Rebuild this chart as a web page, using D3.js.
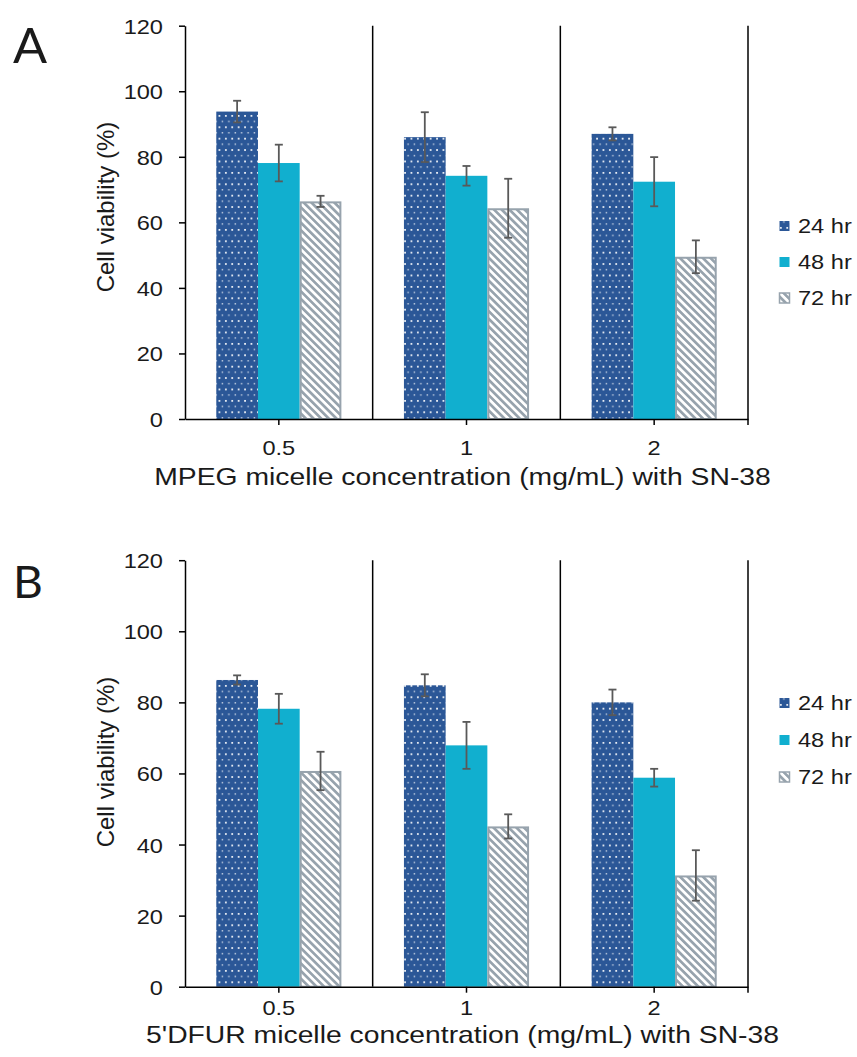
<!DOCTYPE html>
<html>
<head>
<meta charset="utf-8">
<script src="https://cdn.jsdelivr.net/npm/d3@7"></script>
<style>
  body { margin: 0; background: #fff; }
  text { font-family: "Liberation Sans", Arial, sans-serif; fill: #1a1a1a; }
  .letter { font-family: Lato, "Open Sans", sans-serif; }
</style>
</head>
<body>
<script>
// data
const concentrations = ['0.5', '1', '2']
const timepoints = ['24 hr', '48 hr', '72 hr']
const yTicks = [0, 20, 40, 60, 80, 100, 120]

// A: MPEG micelle
const mpeg24hr = [93.8, 86.0, 87.0]
const mpeg48hr = [78.1, 74.2, 72.4]
const mpeg72hr = [66.4, 64.3, 49.5]
const mpeg24hrErr = [3.3, 7.6, 2.0]
const mpeg48hrErr = [5.6, 3.0, 7.5]
const mpeg72hrErr = [1.7, 9.0, 5.0]

// B: 5'DFUR micelle
const dfur24hr = [86.3, 84.8, 80.0]
const dfur48hr = [78.2, 67.9, 58.8]
const dfur72hr = [60.7, 45.1, 31.3]
const dfur24hrErr = [1.3, 3.1, 3.6]
const dfur48hrErr = [4.2, 6.6, 2.5]
const dfur72hrErr = [5.4, 3.4, 7.1]

const W = 857
const H = 1057
const sx = 1.18   // the original figure is stretched sideways

const svg = d3.select('body').append('svg')
    .attr('width', W)
    .attr('height', H)

svg.append('rect').attr('width', W).attr('height', H).attr('fill', '#fff')

const defs = svg.append('defs')

// dotted fill for 24 hr
const dots = defs.append('pattern')
    .attr('id', 'dots')
    .attr('patternUnits', 'userSpaceOnUse')
    .attr('width', 6.4)
    .attr('height', 11.4)
dots.append('rect').attr('width', 6.4).attr('height', 11.4).attr('fill', '#2b5797')
dots.append('rect').attr('x', 1).attr('y', 1).attr('width', 1.7).attr('height', 1.7).attr('fill', '#fff')
dots.append('rect').attr('x', 4.2).attr('y', 6.7).attr('width', 1.4).attr('height', 1.4).attr('fill', '#fff').attr('opacity', 0.75)

// downward diagonal hatch for 72 hr
const hatch = defs.append('pattern')
    .attr('id', 'hatch')
    .attr('patternUnits', 'userSpaceOnUse')
    .attr('width', 5.4)
    .attr('height', 5.4)
    .attr('patternTransform', 'rotate(-45)')
hatch.append('rect').attr('width', 5.4).attr('height', 5.4).attr('fill', '#fff')
hatch.append('rect').attr('width', 2.7).attr('height', 5.4).attr('fill', '#97a3ad')

const fills = ['url(#dots)', '#11afcf', 'url(#hatch)']
const strokes = ['none', 'none', '#97a3ad']

const panels = [
    {
        letter: 'A', letterY: 63, letterSize: 48,
        title: 'MPEG micelle concentration (mg/mL) with SN-38',
        means: [mpeg24hr, mpeg48hr, mpeg72hr],
        errs: [mpeg24hrErr, mpeg48hrErr, mpeg72hrErr],
        top: 25.7, bottom: 419,
        tickOff: 36, titleOff: 66,
        legendY: [226, 262, 298],
        labelY: 207
    },
    {
        letter: 'B', letterY: 598, letterSize: 44,
        title: "5'DFUR micelle concentration (mg/mL) with SN-38",
        means: [dfur24hr, dfur48hr, dfur72hr],
        errs: [dfur24hrErr, dfur48hrErr, dfur72hrErr],
        top: 560.2, bottom: 986.7,
        tickOff: 28, titleOff: 56,
        legendY: [703, 740, 777],
        labelY: 762
    }
]

const left = 185
const right = 748

const drawPanel = (p) => {
    const g = svg.append('g')

    const x0 = d3.scaleBand()
        .domain(concentrations)
        .range([left, right])

    const bw = x0.bandwidth()
    const x1 = d3.scaleBand()
        .domain(timepoints)
        .range([bw / 6, bw * 5 / 6])

    const y = d3.scaleLinear()
        .domain([0, 120])
        .range([p.bottom, p.top])

    // group separators
    concentrations.forEach((c, i) => {
        const xx = x0(c) + bw
        g.append('line')
            .attr('x1', xx).attr('x2', xx)
            .attr('y1', y(120))
            .attr('y2', i === concentrations.length - 1 ? y(0) + 6 : y(0))
            .attr('stroke', '#000')
            .attr('stroke-width', 1.5)
    })

    const rows = []
    concentrations.forEach((c, i) => {
        timepoints.forEach((t, j) => {
            rows.push({ c, t, j, v: p.means[j][i], e: p.errs[j][i] })
        })
    })

    g.selectAll('.bar')
        .data(rows)
        .enter()
        .append('rect')
        .attr('class', 'bar')
        .attr('x', d => x0(d.c) + x1(d.t) + (d.j === 2 ? 1 : 0))
        .attr('y', d => y(d.v) + (d.j === 2 ? 1 : 0))
        .attr('width', d => x1.bandwidth() - (d.j === 2 ? 2 : 0))
        .attr('height', d => y(0) - y(d.v) - (d.j === 2 ? 1 : 0))
        .attr('fill', d => fills[d.j])
        .attr('stroke', d => strokes[d.j])
        .attr('stroke-width', 2)

    // error bars
    const eb = g.selectAll('.err')
        .data(rows)
        .enter()
        .append('g')
        .attr('class', 'err')
        .attr('stroke', '#595959')
        .attr('stroke-width', 1.8)
    const cx = d => x0(d.c) + x1(d.t) + x1.bandwidth() / 2
    eb.append('line')
        .attr('x1', cx).attr('x2', cx)
        .attr('y1', d => y(d.v + d.e)).attr('y2', d => y(d.v - d.e))
    eb.append('line')
        .attr('x1', d => cx(d) - 4).attr('x2', d => cx(d) + 4)
        .attr('y1', d => y(d.v + d.e)).attr('y2', d => y(d.v + d.e))
    eb.append('line')
        .attr('x1', d => cx(d) - 4).attr('x2', d => cx(d) + 4)
        .attr('y1', d => y(d.v - d.e)).attr('y2', d => y(d.v - d.e))

    // axes
    const yAxis = g.append('g')
        .attr('transform', `translate(${left},0)`)
        .call(d3.axisLeft(y).tickValues(yTicks).tickSizeInner(6).tickSizeOuter(0))
    yAxis.select('.domain').attr('stroke', '#000').attr('stroke-width', 1.5)
    yAxis.selectAll('.tick line').attr('stroke', '#000').attr('stroke-width', 1.5)
    yAxis.selectAll('.tick text')
        .attr('x', null).attr('y', null).attr('dy', null)
        .attr('transform', `translate(-22,7.5) scale(${sx},1)`)
        .attr('fill', '#1a1a1a')
        .style('font-size', '20px')
        .style('font-family', '"Liberation Sans", Arial, sans-serif')

    const xAxis = g.append('g')
        .attr('transform', `translate(0,${y(0)})`)
        .call(d3.axisBottom(x0).tickSizeInner(6).tickSizeOuter(0))
    xAxis.select('.domain').attr('stroke', '#000').attr('stroke-width', 1.5)
    xAxis.selectAll('.tick line').attr('stroke', '#000').attr('stroke-width', 1.5)
    xAxis.selectAll('.tick text')
        .attr('x', null).attr('y', null).attr('dy', null)
        .attr('transform', `translate(0,${p.tickOff}) scale(${sx},1)`)
        .attr('fill', '#1a1a1a')
        .style('font-size', '20px')
        .style('font-family', '"Liberation Sans", Arial, sans-serif')

    // titles
    g.append('text')
        .attr('transform', `translate(462.5,${y(0) + p.titleOff}) scale(${sx},1)`)
        .attr('text-anchor', 'middle')
        .style('font-size', '24px')
        .text(p.title)

    g.append('text')
        .attr('transform', `translate(114,${p.labelY}) rotate(-90)`)
        .attr('text-anchor', 'middle')
        .style('font-size', '24px')
        .text('Cell viability (%)')

    g.append('text')
        .attr('class', 'letter')
        .attr('transform', `translate(13,${p.letterY}) scale(1.05,1)`)
        .style('font-size', p.letterSize + 'px')
        .text(p.letter)

    // legend
    const lg = g.selectAll('.legend')
        .data(timepoints)
        .enter()
        .append('g')
        .attr('class', 'legend')
        .attr('transform', (d, i) => `translate(779,${p.legendY[i]})`)
    lg.append('rect')
        .attr('x', 0.5).attr('y', -5)
        .attr('width', 10).attr('height', 10)
        .attr('fill', (d, i) => fills[i])
        .attr('stroke', (d, i) => i === 2 ? strokes[i] : 'none')
        .attr('stroke-width', 1.5)
    lg.append('text')
        .attr('transform', `translate(19,7) scale(${sx},1)`)
        .style('font-size', '20px')
        .text(d => d)
}

panels.forEach(drawPanel)
</script>
</body>
</html>
